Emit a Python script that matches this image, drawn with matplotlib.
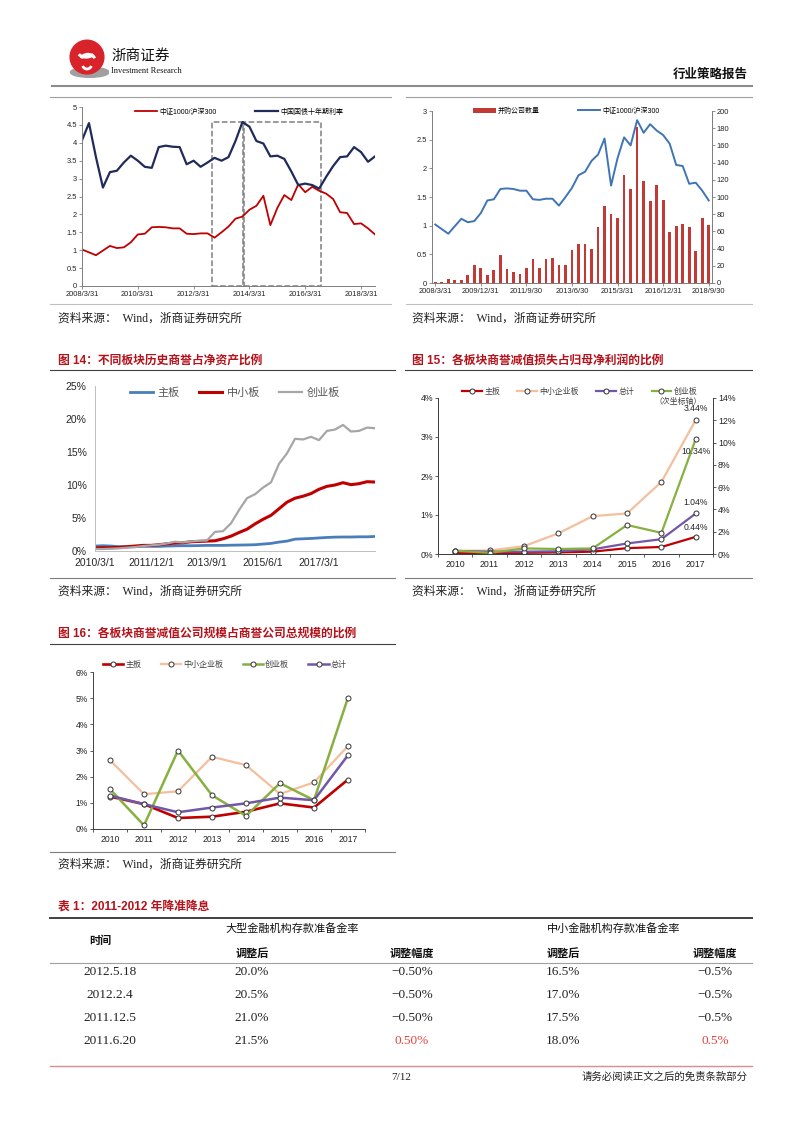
import numpy as np
import matplotlib
matplotlib.use("Agg")
import matplotlib.pyplot as plt
from matplotlib.lines import Line2D
from matplotlib.patches import Rectangle, Circle, Ellipse, Arc
from matplotlib.ticker import FuncFormatter

plt.rcParams['font.family'] = ['Liberation Sans', 'Noto Sans CJK SC', 'DejaVu Sans']
plt.rcParams['axes.unicode_minus'] = False

W, H = 802, 1133

# ---- top left: 中证1000/沪深300 vs 10y bond yield (quarterly 2008Q1 - 2018Q3)
dates_a = ['2008/3/31', '2010/3/31', '2012/3/31', '2014/3/31', '2016/3/31', '2018/3/31']
ratio_1000_300 = [1.02, 0.94, 0.86, 0.99, 1.12, 1.06, 1.08, 1.22, 1.44, 1.46,
                  1.64, 1.65, 1.64, 1.61, 1.61, 1.46, 1.45, 1.47, 1.47, 1.35,
                  1.50, 1.66, 1.88, 1.94, 2.13, 2.24, 2.52, 1.70, 2.18, 2.54,
                  2.40, 2.84, 2.62, 2.77, 2.66, 2.58, 2.43, 2.06, 2.04, 1.73,
                  1.75, 1.61, 1.44]
bond_10y = [4.07, 4.55, 3.60, 2.75, 3.18, 3.22, 3.45, 3.64, 3.50, 3.33,
            3.30, 3.88, 3.92, 3.89, 3.88, 3.40, 3.50, 3.33, 3.45, 3.58,
            3.50, 3.60, 4.05, 4.58, 4.45, 4.05, 3.98, 3.62, 3.64, 3.55,
            3.20, 2.82, 2.86, 2.82, 2.72, 3.05, 3.35, 3.60, 3.62, 3.88,
            3.74, 3.47, 3.62]
box_ranges = [(18.6, 23.05), (23.25, 34.2)]
box_height = 4.58

# ---- top right: 并购公司数量 (bars) + ratio line
dates_b = ['2008/3/31', '2009/12/31', '2011/9/30', '2013/6/30', '2015/3/31', '2016/12/31', '2018/9/30']
ma_count = [1, 1, 5, 4, 3, 9, 21, 17, 9, 15,
            32, 16, 13, 11, 18, 28, 17, 28, 29, 21,
            21, 38, 45, 45, 40, 65, 89, 80, 76, 126,
            109, 181, 119, 95, 114, 96, 59, 66, 69, 65,
            37, 76, 67]

# ---- fig 14: goodwill / net assets (%), quarterly 2010Q1 - 2018Q4
dates_14 = ['2010/3/1', '2011/12/1', '2013/9/1', '2015/6/1', '2017/3/1']
gw_main = [0.75, 0.8, 0.75, 0.65, 0.65, 0.65, 0.7, 0.7, 0.7, 0.75,
           0.78, 0.8, 0.8, 0.82, 0.85, 0.85, 0.85, 0.88, 0.9, 0.92,
           0.95, 1.05, 1.15, 1.35, 1.5, 1.8, 1.85, 1.9, 1.98, 2.05,
           2.1, 2.12, 2.12, 2.15, 2.15, 2.2]
gw_sme = [0.45, 0.5, 0.5, 0.55, 0.65, 0.75, 0.85, 0.85, 0.95, 1.1,
          1.2, 1.25, 1.4, 1.45, 1.5, 1.55, 1.85, 2.25, 2.8, 3.3,
          4.1, 4.8, 5.4, 6.4, 7.4, 8.0, 8.3, 8.7, 9.35, 9.8,
          10.0, 10.35, 10.05, 10.2, 10.5, 10.45]
gw_gem = [0.3, 0.3, 0.35, 0.4, 0.5, 0.6, 0.75, 0.85, 0.95, 1.15,
          1.4, 1.3, 1.45, 1.55, 1.6, 2.9, 3.0, 4.2, 6.2, 8.0,
          8.6, 9.6, 10.4, 13.2, 14.8, 17.0, 16.9, 17.3, 16.8, 18.2,
          18.4, 19.1, 18.1, 18.2, 18.7, 18.6]

# ---- fig 15: goodwill impairment / net profit (%)
years = ['2010', '2011', '2012', '2013', '2014', '2015', '2016', '2017']
imp_main = [0.02, 0.02, 0.03, 0.04, 0.06, 0.15, 0.18, 0.44]
imp_sme = [0.08, 0.09, 0.20, 0.53, 0.97, 1.04, 1.85, 3.44]
imp_total = [0.08, 0.06, 0.06, 0.07, 0.12, 0.27, 0.38, 1.04]
imp_gem = [0.30, 0.10, 0.50, 0.45, 0.50, 2.60, 1.90, 10.34]

# ---- fig 16: impaired companies' size share (%)
sc_main = [1.24, 0.95, 0.42, 0.47, 0.66, 0.98, 0.82, 1.89]
sc_sme = [2.63, 1.33, 1.44, 2.76, 2.44, 1.34, 1.78, 3.17]
sc_gem = [1.52, 0.14, 3.00, 1.29, 0.50, 1.75, 1.10, 5.02]
sc_total = [1.28, 0.95, 0.64, 0.82, 0.98, 1.20, 1.10, 2.82]

# ---- table 1
rrr_dates = ['2012.5.18', '2012.2.4', '2011.12.5', '2011.6.20']
rrr_large = ['20.0%', '20.5%', '21.0%', '21.5%']
rrr_large_chg = ['−0.50%', '−0.50%', '−0.50%', '0.50%']
rrr_small = ['16.5%', '17.0%', '17.5%', '18.0%']
rrr_small_chg = ['−0.5%', '−0.5%', '−0.5%', '0.5%']

RED = '#C00000'
TITLE_RED = '#B5121B'
PEACH = '#F4BF9C'
PURPLE = '#7158A8'
GREEN = '#86B03F'
SERIF = ['Liberation Serif', 'Noto Sans CJK SC']

fig = plt.figure(figsize=(W / 100, H / 100), dpi=100)


def add_ax(l, t, r, b):
    return fig.add_axes([l / W, 1 - b / H, (r - l) / W, (b - t) / H])


def txt(x, y, s, **kw):
    kw.setdefault('va', 'center')
    fig.text(x / W, 1 - y / H, s, **kw)


def hline(x0, x1, y, color='#808080', lw=0.8):
    fig.add_artist(Line2D([x0 / W, x1 / W], [1 - y / H, 1 - y / H],
                          transform=fig.transFigure, color=color, lw=lw))


def style_axes(ax, color='#808080', size=5.2, sides=('left', 'bottom')):
    for s in ['left', 'right', 'top', 'bottom']:
        ax.spines[s].set_visible(s in sides)
        ax.spines[s].set_color(color)
        ax.spines[s].set_linewidth(0.7)
    ax.tick_params(labelsize=size, colors='#222222', length=2, width=0.6, pad=1.5)
    ax.tick_params(color=color)


pct0 = FuncFormatter(lambda v, p: f'{v:.0f}%')

# ---------------- header ----------------
lg = add_ax(64, 36, 110, 80)
lg.set_xlim(-1.2, 1.2)
lg.set_ylim(-1.2, 1.2)
lg.set_aspect('equal')
lg.axis('off')
lg.add_patch(Ellipse((0.15, -0.78), 2.1, 0.55, color='#A0A0A0'))
lg.add_patch(Circle((0, 0.05), 0.92, color='#D9232A'))
lg.add_patch(Arc((-0.05, 0.35), 0.9, 0.6, theta1=200, theta2=340, color='white', lw=2.2))
lg.add_patch(Arc((0.05, -0.15), 0.8, 0.7, theta1=20, theta2=160, color='white', lw=2.2))
lg.add_patch(Arc((0.0, -0.35), 0.5, 0.5, theta1=200, theta2=340, color='white', lw=2.0))
txt(111, 56, '浙商证券', fontsize=10.5, ha='left', color='#111111')
txt(111, 71, 'Investment Research', fontsize=6, ha='left', family=SERIF, color='#111111')
txt(748, 75, '行业策略报告', fontsize=9, ha='right', fontweight='bold', color='#111111')
hline(52, 752, 86, color='#8C8C8C', lw=1.5)
hline(50, 391, 97, color='#A0A0A0', lw=0.8)
hline(406, 752, 97, color='#A0A0A0', lw=0.8)

# ---------------- top left chart ----------------
x43 = np.arange(len(ratio_1000_300))
ax1 = add_ax(82, 107, 375, 286)
ax1.plot(x43, ratio_1000_300, color=RED, lw=1.3, label='中证1000/沪深300')
ax1.plot(x43, bond_10y, color='#1F2B5B', lw=1.6, label='中国国债十年期利率')
for a, b in box_ranges:
    ax1.add_patch(Rectangle((a, 0), b - a, box_height, fill=False, ls='--',
                            ec='#7F7F7F', lw=1.1))
ax1.set_xlim(0, len(x43) - 1)
ax1.set_ylim(0, 5)
ax1.set_yticks(np.arange(0, 5.01, 0.5))
ax1.yaxis.set_major_formatter(FuncFormatter(lambda v, p: f'{v:g}'))
ax1.set_xticks(np.arange(0, len(x43), 8))
ax1.set_xticklabels(dates_a)
style_axes(ax1, size=5.4)
ax1.legend(loc='center', bbox_to_anchor=(0.535, 0.972), ncol=2, frameon=False,
           fontsize=5, handlelength=3.3, columnspacing=5.5, handletextpad=0.3)
hline(50, 391, 304, color='#BFBFBF', lw=0.8)
txt(58, 319, '资料来源：  Wind，浙商证券研究所', fontsize=8.5, ha='left', family=SERIF, color='#222222')

# ---------------- top right chart ----------------
axl = add_ax(432, 111, 712, 283)
axb = axl.twinx()
bars = axb.bar(x43, ma_count, width=0.42, color='#C23A36', label='并购公司数量')
line, = axl.plot(x43, ratio_1000_300, color='#3F74B5', lw=1.4, label='中证1000/沪深300')
axl.set_zorder(axb.get_zorder() + 1)
axl.patch.set_visible(False)
axl.set_xlim(-0.5, len(x43) - 0.5)
axl.set_ylim(0, 3)
axb.set_ylim(0, 200)
axl.set_yticks(np.arange(0, 3.01, 0.5))
axl.yaxis.set_major_formatter(FuncFormatter(lambda v, p: f'{v:g}'))
axb.set_yticks(np.arange(0, 201, 20))
axl.set_xticks(np.arange(0, len(x43), 7))
axl.set_xticklabels(dates_b)
style_axes(axl, size=5.4, sides=('left', 'bottom', 'right'))
style_axes(axb, size=5.4, sides=('left', 'bottom', 'right'))
axl.legend([bars, line], ['并购公司数量', '中证1000/沪深300'], loc='center',
           bbox_to_anchor=(0.48, 1.0), ncol=2, frameon=False, fontsize=5,
           handlelength=3.2, columnspacing=5.5, handletextpad=0.3)
hline(406, 752, 304, color='#BFBFBF', lw=0.8)
txt(412, 319, '资料来源：  Wind，浙商证券研究所', fontsize=8.5, ha='left', family=SERIF, color='#222222')

# ---------------- figure 14 ----------------
txt(58, 361, '图 14：不同板块历史商誉占净资产比例', fontsize=8.5, ha='left',
    fontweight='bold', color=TITLE_RED)
hline(50, 395, 370, color='#404040', lw=0.8)
x36 = np.arange(len(gw_main))
ax14 = add_ax(95, 386, 375, 551)
ax14.plot(x36, gw_main, color='#4A7EBB', lw=2.0, label='主板')
ax14.plot(x36, gw_sme, color=RED, lw=2.2, label='中小板')
ax14.plot(x36, gw_gem, color='#A6A6A6', lw=1.6, label='创业板')
ax14.set_xlim(0, len(x36) - 1)
ax14.set_ylim(0, 25)
ax14.set_yticks(np.arange(0, 26, 5))
ax14.yaxis.set_major_formatter(pct0)
ax14.set_xticks(np.arange(0, 29, 7))
ax14.set_xticklabels(dates_14)
style_axes(ax14, color='#BFBFBF', size=7.5)
ax14.tick_params(length=0, colors='#262626')
ax14.tick_params(axis='y', pad=6)
ax14.tick_params(axis='x', pad=5)
ax14.legend(loc='center', bbox_to_anchor=(0.5, 0.958), ncol=3, frameon=False,
            fontsize=8, handlelength=2.1, columnspacing=1.7, handletextpad=0.4,
            labelcolor='#595959')
hline(50, 395, 578, color='#7F7F7F', lw=0.8)
txt(58, 592, '资料来源：  Wind，浙商证券研究所', fontsize=8.5, ha='left', family=SERIF, color='#222222')

# ---------------- figure 15 ----------------
txt(412, 361, '图 15：各板块商誉减值损失占归母净利润的比例', fontsize=8.5, ha='left',
    fontweight='bold', color=TITLE_RED)
hline(405, 752, 370, color='#404040', lw=0.8)
x8 = np.arange(len(years))
mk = dict(marker='o', ms=3.6, mfc='white', mec='#333333', mew=0.7)
ax15 = add_ax(438, 398, 713, 554)
ax15r = ax15.twinx()
h1, = ax15.plot(x8, imp_main, color=RED, lw=1.6, **mk)
h2, = ax15.plot(x8, imp_sme, color=PEACH, lw=1.6, **mk)
h3, = ax15.plot(x8, imp_total, color=PURPLE, lw=1.6, **mk)
h4, = ax15r.plot(x8, imp_gem, color=GREEN, lw=1.6, **mk)
ax15.set_xlim(-0.5, 7.5)
ax15.set_ylim(0, 4)
ax15r.set_ylim(0, 14)
ax15.set_yticks(np.arange(0, 4.1, 1))
ax15r.set_yticks(np.arange(0, 14.1, 2))
ax15.yaxis.set_major_formatter(pct0)
ax15r.yaxis.set_major_formatter(pct0)
ax15.set_xticks(x8)
ax15.set_xticklabels(years)
ax15.set_xticks(np.arange(-0.5, 8, 1), minor=True)
style_axes(ax15, color='#404040', size=6.3, sides=('left', 'bottom', 'right'))
style_axes(ax15r, color='#404040', size=6.3, sides=('left', 'bottom', 'right'))
ax15.tick_params(axis='x', which='major', length=0, pad=4)
ax15.tick_params(axis='x', which='minor', length=2.5, color='#404040')
ax15r.annotate(f'{imp_gem[-1]:.2f}%', (7, imp_gem[-1]), xytext=(0, -9), textcoords='offset points',
               ha='center', va='center', fontsize=6.2, color='#262626')
ax15.annotate(f'{imp_sme[-1]:.2f}%', (7, imp_sme[-1]), xytext=(0, 8), textcoords='offset points',
              ha='center', va='center', fontsize=6.2, color='#262626')
ax15.annotate(f'{imp_total[-1]:.2f}%', (7, imp_total[-1]), xytext=(0, 8), textcoords='offset points',
              ha='center', va='center', fontsize=6.2, color='#262626')
ax15.annotate(f'{imp_main[-1]:.2f}%', (7, imp_main[-1]), xytext=(0, 7), textcoords='offset points',
              ha='center', va='center', fontsize=6.2, color='#262626')
ax15r.legend([h1, h2, h3, h4], ['主板', '中小企业板', '总计', '创业板'], loc='center',
             bbox_to_anchor=(0.515, 1.04), ncol=4, frameon=False, fontsize=5.7,
             handlelength=2.5, columnspacing=2.2, handletextpad=0.3, labelcolor='#404040')
txt(678, 402, '（次坐标轴）', fontsize=5.7, ha='center', color='#404040')
hline(405, 752, 578, color='#7F7F7F', lw=0.8)
txt(412, 592, '资料来源：  Wind，浙商证券研究所', fontsize=8.5, ha='left', family=SERIF, color='#222222')

# ---------------- figure 16 ----------------
txt(58, 634, '图 16：各板块商誉减值公司规模占商誉公司总规模的比例', fontsize=8.5, ha='left',
    fontweight='bold', color=TITLE_RED)
hline(50, 395, 644, color='#404040', lw=0.8)
ax16 = add_ax(93, 672, 365, 829)
g1, = ax16.plot(x8, sc_main, color=RED, lw=1.9, **mk)
g2, = ax16.plot(x8, sc_sme, color=PEACH, lw=1.6, **mk)
g3, = ax16.plot(x8, sc_gem, color=GREEN, lw=1.8, **mk)
g4, = ax16.plot(x8, sc_total, color=PURPLE, lw=1.8, **mk)
ax16.set_xlim(-0.5, 7.5)
ax16.set_ylim(0, 6)
ax16.set_yticks(np.arange(0, 6.1, 1))
ax16.yaxis.set_major_formatter(pct0)
ax16.set_xticks(x8)
ax16.set_xticklabels(years)
ax16.set_xticks(np.arange(-0.5, 8, 1), minor=True)
style_axes(ax16, color='#404040', size=6.2)
ax16.tick_params(axis='x', which='major', length=0, pad=4)
ax16.tick_params(axis='x', which='minor', length=2.5, color='#404040')
ax16.legend([g1, g2, g3, g4], ['主板', '中小企业板', '创业板', '总计'], loc='center',
            bbox_to_anchor=(0.485, 1.045), ncol=4, frameon=False, fontsize=5.8,
            handlelength=2.5, columnspacing=2.4, handletextpad=0.3, labelcolor='#404040')
hline(50, 395, 852, color='#7F7F7F', lw=0.8)
txt(58, 865, '资料来源：  Wind，浙商证券研究所', fontsize=8.5, ha='left', family=SERIF, color='#222222')

# ---------------- table 1 ----------------
txt(58, 907, '表 1：2011-2012 年降准降息', fontsize=8.5, ha='left', fontweight='bold', color=TITLE_RED)
hline(50, 752, 918, color='#404040', lw=1.4)
txt(100, 941, '时间', fontsize=8, ha='center', fontweight='bold', color='#111111')
txt(292, 929, '大型金融机构存款准备金率', fontsize=8, ha='center', color='#111111')
txt(614, 929, '中小金融机构存款准备金率', fontsize=8, ha='center', color='#111111')
col_x = [110, 252, 412, 563, 715]
for cx, s in zip(col_x[1:], ['调整后', '调整幅度', '调整后', '调整幅度']):
    txt(cx, 954, s, fontsize=8, ha='center', fontweight='bold', color='#111111')
hline(50, 752, 963, color='#A0A0A0', lw=0.8)
row_y = [972, 995, 1018, 1041]
for i, ry in enumerate(row_y):
    vals = [rrr_dates[i], rrr_large[i], rrr_large_chg[i], rrr_small[i], rrr_small_chg[i]]
    for j, (cx, s) in enumerate(zip(col_x, vals)):
        c = '#E8413C' if (j in (2, 4) and not s.startswith('−')) else '#222222'
        txt(cx, ry, s, fontsize=9.5, ha='center', family=SERIF, color=c)

# ---------------- footer ----------------
hline(50, 752, 1066, color='#D98C96', lw=1.0)
txt(401, 1077, '7/12', fontsize=8, ha='center', family=SERIF, color='#222222')
txt(748, 1077, '请务必阅读正文之后的免责条款部分', fontsize=7.5, ha='right', color='#222222')

fig.savefig('out.png', dpi=100)
